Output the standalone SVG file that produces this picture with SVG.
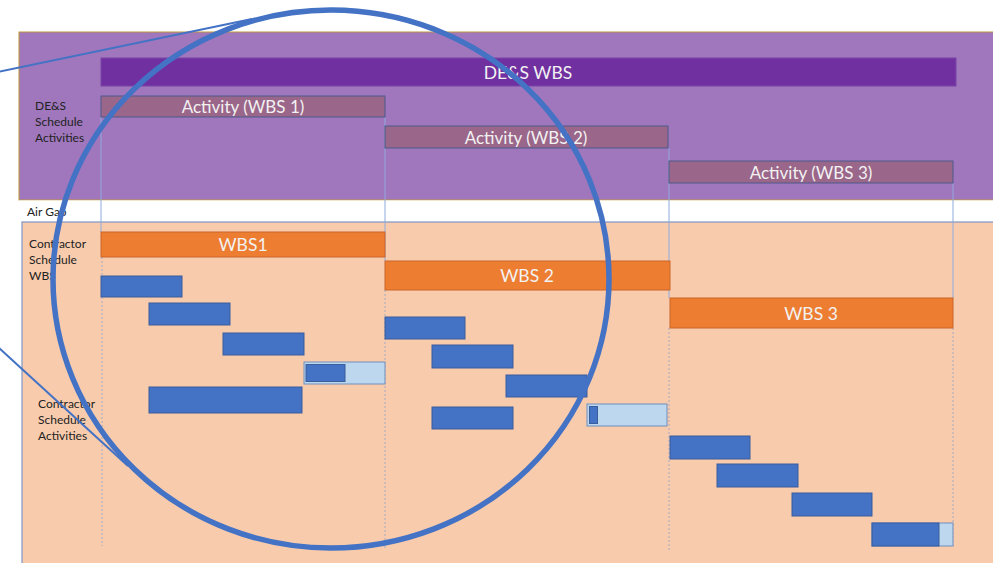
<svg xmlns="http://www.w3.org/2000/svg" width="993" height="563" viewBox="0 0 993 563">
  <style>
    .lbl { font-family: Lato, "Open Sans", "Liberation Sans", sans-serif; font-size: 12px; fill: #222222; }
    .bar-t { font-family: Lato, "Open Sans", "Liberation Sans", sans-serif; fill: #F2F2F2; text-anchor: middle; dominant-baseline: central; }
    .act { fill: #9A6689; stroke: #4A5B8C; stroke-width: 1; }
    .wbs { fill: #ED7D31; stroke: #C8662A; stroke-width: 1; }
    .task { fill: #4472C4; stroke: #3A5D9C; stroke-width: 1; }
    .prog { fill: #BDD7EE; stroke: #6F8FBF; stroke-width: 1; }
    .guide { stroke: #8FAADC; stroke-width: 1; fill: none; }
    .dot { stroke: #A3ACC4; stroke-width: 1; stroke-dasharray: 2 2; fill: none; }
    .call { stroke: #4472C4; fill: none; }
  </style>

  <!-- background bands -->
  <g id="bands">
    <rect x="19" y="32" width="980" height="168" fill="#A077BD" stroke="#C09A3A" stroke-width="1"/>
    <rect x="19" y="200.5" width="980" height="21.5" fill="#FFFFFF"/>
    <rect x="22" y="222" width="980" height="345" fill="#F8CBAD" stroke="#7F97C6" stroke-width="1.2"/>
  </g>

  <!-- row labels -->
  <g id="labels">
    <text class="lbl" x="35" y="110">DE&amp;S</text>
    <text class="lbl" x="35" y="126">Schedule</text>
    <text class="lbl" x="35" y="142">Activities</text>
    <text class="lbl" x="27" y="216">Air Gap</text>
    <text class="lbl" x="29" y="248">Contractor</text>
    <text class="lbl" x="29" y="264">Schedule</text>
    <text class="lbl" x="29" y="280">WBS</text>
    <text class="lbl" x="38" y="408">Contractor</text>
    <text class="lbl" x="38" y="424">Schedule</text>
    <text class="lbl" x="38" y="440">Activities</text>
  </g>

  <!-- column guide lines -->
  <g id="guides">
    <line class="guide" x1="101" y1="117" x2="101" y2="232"/>
    <line class="guide" x1="385" y1="117" x2="385" y2="261"/>
    <line class="guide" x1="669" y1="148" x2="669" y2="298"/>
    <line class="guide" x1="953" y1="183" x2="953" y2="298"/>
    <line class="dot" x1="102" y1="257" x2="102" y2="546"/>
    <line class="dot" x1="385" y1="290" x2="385" y2="548"/>
    <line class="dot" x1="669" y1="328" x2="669" y2="550"/>
    <line class="dot" x1="953" y1="328" x2="953" y2="546"/>
  </g>

  <!-- DE&S WBS -->
  <g id="des-wbs">
    <rect x="101" y="58" width="855" height="28" fill="#7030A0" stroke="#7A45A8" stroke-width="1"/>
    <text class="bar-t" x="528" y="72" font-size="17.5">DE&amp;S WBS</text>
  </g>

  <g id="activity-1">
    <rect class="act" x="101" y="96" width="284" height="21"/>
    <text class="bar-t" x="243" y="106.5" font-size="17">Activity (WBS 1)</text>
  </g>
  <g id="activity-2">
    <rect class="act" x="385" y="126" width="283" height="22"/>
    <text class="bar-t" x="526" y="137" font-size="17">Activity (WBS 2)</text>
  </g>
  <g id="activity-3">
    <rect class="act" x="669" y="161" width="284" height="22"/>
    <text class="bar-t" x="811" y="172" font-size="17">Activity (WBS 3)</text>
  </g>

  <!-- contractor WBS bars -->
  <g id="wbs-1">
    <rect class="wbs" x="101" y="232" width="284" height="25"/>
    <text class="bar-t" x="243" y="244.5" font-size="17.5">WBS1</text>
  </g>
  <g id="wbs-2">
    <rect class="wbs" x="385" y="261" width="285" height="29"/>
    <text class="bar-t" x="527" y="275.5" font-size="17.5">WBS 2</text>
  </g>
  <g id="wbs-3">
    <rect class="wbs" x="670" y="298" width="283" height="30"/>
    <text class="bar-t" x="811" y="313" font-size="17.5">WBS 3</text>
  </g>

  <!-- contractor activities, WBS 1 -->
  <g id="tasks-wbs-1">
    <rect class="task" x="101" y="276" width="81" height="21"/>
    <rect class="task" x="149" y="303" width="81" height="22"/>
    <rect class="task" x="223" y="333" width="81" height="22"/>
    <rect class="prog" x="304" y="362" width="81" height="22"/>
    <rect class="task" x="306" y="364.5" width="39" height="17"/>
    <rect class="task" x="149" y="387" width="153" height="26"/>
  </g>

  <!-- contractor activities, WBS 2 -->
  <g id="tasks-wbs-2">
    <rect class="task" x="385" y="317" width="80" height="22"/>
    <rect class="task" x="432" y="345" width="81" height="23"/>
    <rect class="task" x="506" y="375" width="81" height="22"/>
    <rect class="task" x="432" y="407" width="81" height="22"/>
    <rect class="prog" x="587" y="404" width="80" height="22"/>
    <rect class="task" x="589.5" y="406.5" width="8" height="17"/>
  </g>

  <!-- contractor activities, WBS 3 -->
  <g id="tasks-wbs-3">
    <rect class="task" x="670" y="436" width="80" height="23"/>
    <rect class="task" x="717" y="464" width="81" height="23"/>
    <rect class="task" x="792" y="493" width="80" height="23"/>
    <rect class="prog" x="872" y="523" width="81" height="23"/>
    <rect class="task" x="872" y="523" width="67" height="23"/>
  </g>

  <!-- callout ring and pointer lines -->
  <g id="connectors">
    <line class="call" x1="-2" y1="72" x2="252" y2="19" stroke-width="2"/>
    <line class="call" x1="-2" y1="347" x2="128" y2="466" stroke-width="2"/>
    <ellipse class="call" cx="331" cy="279" rx="278" ry="269" stroke-width="5.5"/>
  </g>
</svg>
